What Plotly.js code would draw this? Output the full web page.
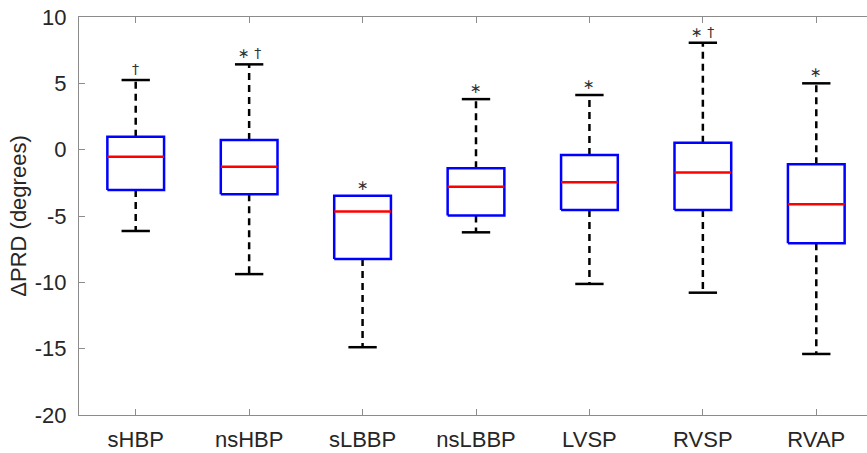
<!DOCTYPE html>
<html>
<head>
<meta charset="utf-8">
<script src="https://cdn.plot.ly/plotly-3.0.1.min.js"></script>
<style>
html,body{margin:0;padding:0;overflow:hidden;background:#fff;width:867px;height:453px;}
#chart{width:880px;height:453px;}
</style>
</head>
<body>
<div id="chart"></div>
<script>
// Data
const categories = ['sHBP','nsHBP','sLBBP','nsLBBP','LVSP','RVSP','RVAP'];
const upperWhisker = [5.25, 6.43, -3.47, 3.81, 4.12, 8.06, 5.00];
const q3 = [0.98, 0.73, -3.47, -1.40, -0.40, 0.53, -1.10];
const medians = [-0.53, -1.28, -4.67, -2.79, -2.46, -1.73, -4.11];
const q1 = [-3.04, -3.36, -8.24, -4.97, -4.54, -4.54, -7.05];
const lowerWhisker = [-6.13, -9.38, -14.89, -6.23, -10.12, -10.78, -15.40];
const markers = ['\u2020', '\u2217 \u2020', '\u2217', '\u2217', '\u2217', '\u2217 \u2020', '\u2217'];
const yTicks = [-20, -15, -10, -5, 0, 5, 10];
const yTickLabels = ['-20', '-15', '-10', '-5', '0', '5', '10'];

const halfBox = 0.25, halfCap = 0.125;
const pos = categories.map((c, i) => i + 1);

const bx = [], by = [], mx = [], my = [], wx = [], wy = [], cx = [], cy = [];
pos.forEach((x, i) => {
  bx.push(x - halfBox, x + halfBox, x + halfBox, x - halfBox, x - halfBox, null);
  by.push(q1[i], q1[i], q3[i], q3[i], q1[i], null);
  mx.push(x - halfBox, x + halfBox, null);
  my.push(medians[i], medians[i], null);
  if (upperWhisker[i] > q3[i]) {
    wx.push(x, x, null); wy.push(q3[i], upperWhisker[i], null);
    cx.push(x - halfCap, x + halfCap, null); cy.push(upperWhisker[i], upperWhisker[i], null);
  }
  if (lowerWhisker[i] < q1[i]) {
    wx.push(x, x, null); wy.push(q1[i], lowerWhisker[i], null);
    cx.push(x - halfCap, x + halfCap, null); cy.push(lowerWhisker[i], lowerWhisker[i], null);
  }
});

const traces = [
  {x: wx, y: wy, mode: 'lines', line: {color: '#000', width: 2.5, dash: '7px,5px'}, hoverinfo: 'skip', connectgaps: false},
  {x: cx, y: cy, mode: 'lines', line: {color: '#000', width: 2.5}, hoverinfo: 'skip', connectgaps: false},
  {x: bx, y: by, mode: 'lines', line: {color: '#0000ff', width: 2.5}, hoverinfo: 'skip', connectgaps: false},
  {x: mx, y: my, mode: 'lines', line: {color: '#ff0000', width: 2.5}, hoverinfo: 'skip', connectgaps: false}
];

const annotations = pos.map((x, i) => ({
  x: x, y: upperWhisker[i], xref: 'x', yref: 'y',
  text: markers[i], showarrow: false, yanchor: 'bottom', yshift: 1,
  font: {family: 'DejaVu Sans, Liberation Sans, sans-serif', size: 14, color: '#333'}
}));

const layout = {
  width: 880, height: 453,
  margin: {l: 79, r: 7, t: 17, b: 38},
  paper_bgcolor: '#fff', plot_bgcolor: '#fff',
  showlegend: false,
  font: {family: 'Liberation Sans, Arial, sans-serif', size: 22, color: '#262626'},
  xaxis: {
    range: [0.5, 7.5], tickvals: pos, ticktext: categories,
    ticks: 'inside', ticklen: 6, tickcolor: '#8c8c8c', tickwidth: 1,
    showline: true, linecolor: '#8c8c8c', linewidth: 1, mirror: 'ticks',
    showgrid: false, zeroline: false, ticklabelstandoff: 5,
    tickfont: {size: 22, color: '#262626'}
  },
  yaxis: {
    range: [-20, 10], tickvals: yTicks, ticktext: yTickLabels,
    ticks: 'inside', ticklen: 6, tickcolor: '#8c8c8c', tickwidth: 1,
    showline: true, linecolor: '#8c8c8c', linewidth: 1, mirror: 'ticks',
    showgrid: false, zeroline: false, ticklabelstandoff: 7,
    tickfont: {size: 22, color: '#262626'},
    title: {text: '\u0394PRD (degrees)', font: {size: 22, color: '#262626'}, standoff: 2}
  },
  annotations: annotations
};

Plotly.newPlot('chart', traces, layout, {displayModeBar: false, staticPlot: true});
</script>
</body>
</html>
